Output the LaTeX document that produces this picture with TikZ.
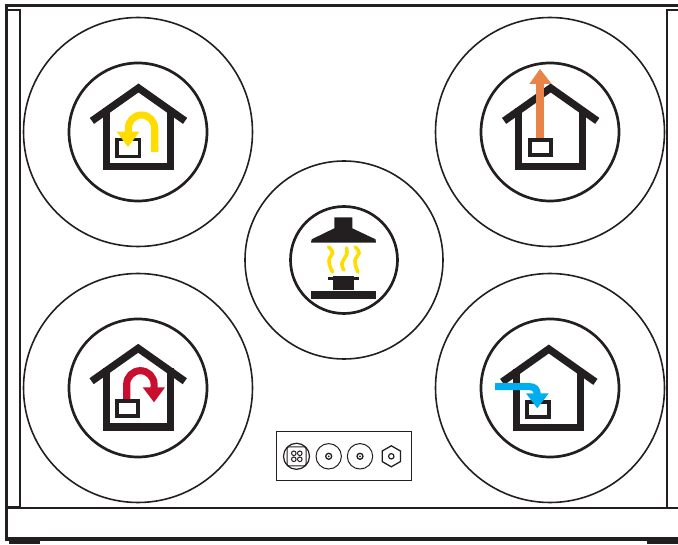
\documentclass[tikz,border=0pt]{standalone}
\definecolor{ink}{HTML}{231F20}
\definecolor{ayellow}{HTML}{FFDD00}
\definecolor{aorange}{HTML}{E8834A}
\definecolor{ared}{HTML}{C8102E}
\definecolor{ablue}{HTML}{00AEEF}
\tikzset{
  frame/.style={draw=ink,line width=3.7pt},
  thinframe/.style={draw=ink,line width=1.8pt},
  bigring/.style={draw=ink,line width=1.6pt},
  smallring/.style={draw=ink,line width=2.7pt},
  structure/.style={draw=ink,line width=7.3pt,miter limit=10},
  shaft/.style={line width=7.1pt},
  steam/.style={draw=ayellow,line width=3.6pt,line cap=round},
  port/.style={draw=ink,line width=1pt},
  houseicon/.pic={
    \draw[structure,line join=miter] (-46.6,32.9) -- (0,0) -- (46.6,32.9);
    \draw[structure,line join=miter] (-32,20) -- (-32,78.7) -- (32,78.7) -- (32,20);
  }
}
\begin{document}
\begin{tikzpicture}[x=1pt,y=-1pt]
\useasboundingbox (0,0) rectangle (678,545);
% cabinet frame
\draw[frame] (678,5.6) -- (6.6,5.6) -- (6.6,538.8) -- (678,538.8);
\fill[ink] (9,537) rectangle (40,543.6);
\fill[ink] (647,537) rectangle (678,543.6);
\draw[thinframe] (8,10) -- (20,10) -- (20,506.5) -- (8,506.5);
\draw[thinframe] (678,10) -- (667,10) -- (667,508);
\draw[thinframe] (8,508) -- (678,508);
% rings
\foreach \cx/\cy in {138/132,550/132,138/388,550/388}{
  \draw[bigring] (\cx,\cy) circle (114.5);
  \draw[smallring] (\cx,\cy) circle (69);
}
\draw[bigring] (344,260) circle (99);
\draw[smallring] (344,260) circle (53.5);
% top-left: recirculation
\pic at (138.5,88) {houseicon};
\draw[ink,line width=3.1pt] (117,139.3) rectangle (139.7,156.3);
\draw[ayellow,shaft] (154.7,152) -- (154.7,128.5) arc[start angle=0,end angle=-180,x radius=13.2,y radius=13.5] -- (128.3,133);
\fill[ayellow] (116.7,131.7) -- (139.5,131.7) -- (128,147) -- cycle;
% top-right: extraction
\pic at (550.7,88) {houseicon};
\draw[ink,line width=4.3pt] (530.3,139.7) rectangle (550.7,155);
\draw[aorange,shaft] (540,138) -- (540,83);
\fill[aorange] (540,69) -- (551.7,84) -- (529.3,84) -- cycle;
% bottom-left: recirculation red
\pic at (138.2,348.3) {houseicon};
\draw[ink,line width=3.7pt] (116.7,400.7) rectangle (138.3,416);
\draw[ared,shaft] (126.7,399) -- (126.7,384.4) arc[start angle=180,end angle=360,x radius=13.7,y radius=13.7] -- (154,389);
\fill[ared] (142.7,387.3) -- (165,387.3) -- (154,402.3) -- cycle;
% bottom-right: supply
\pic at (548.8,349) {houseicon};
\draw[ink,line width=3.7pt] (526.7,401.7) rectangle (549,417.3);
\draw[ablue,shaft] (495,386.7) -- (530,386.7) .. controls (534.5,386.7) and (537.3,389.5) .. (537.3,395);
\fill[ablue] (526,393.3) -- (548.7,393.3) -- (537.3,408.3) -- cycle;
% centre: hood
\fill[ink] (334.3,217.3) -- (352.3,217.3) -- (352.3,228.3) -- (375.5,239.3) -- (376,242.7) -- (311,242.7) -- (311.7,239.3) -- (334.3,228.3) -- cycle;
\fill[ink] (311,291) rectangle (376,299);
\fill[ink] (333,276) rectangle (354,290);
\fill[ink] (328.3,276.7) rectangle (359,280);
\draw[steam] plot[smooth,tension=0.9] coordinates {(328.5,247) (332.5,253) (329,261) (332.5,272)};
\draw[steam] plot[smooth,tension=0.9] coordinates {(346.5,248) (346.5,255) (342,263) (344,270)};
\draw[steam] plot[smooth,tension=0.9] coordinates {(355,247) (359,253) (355,261) (358,272)};
% connector plate
\draw[draw=ink,line width=1.1pt] (276.7,431.7) rectangle (411.7,480.7);
\draw[port,line width=1.2pt] (296.5,456.3) circle (13);
\draw[port,rounded corners=2pt] (287,446.8) rectangle (306,465.8);
\foreach \dx in {-3,3}{\foreach \dy in {-3,3}{
  \draw[port] (296.8+\dx,456.3+\dy) circle (2.3);
}}
\foreach \cx in {328.7,360}{
  \draw[port] (\cx,456.3) circle (12.7);
  \draw[port,line width=1.3pt] (\cx,456.3) circle (3);
  \fill[ink] (\cx,456.3) circle (1);
}
\draw[port,line width=1.3pt] (391.3,445.8) -- (400.4,451) -- (400.4,461.6) -- (391.3,466.8) -- (382.2,461.6) -- (382.2,451) -- cycle;
\draw[port,line width=1.2pt] (391.3,456.3) circle (2.7);
\end{tikzpicture}
\end{document}
